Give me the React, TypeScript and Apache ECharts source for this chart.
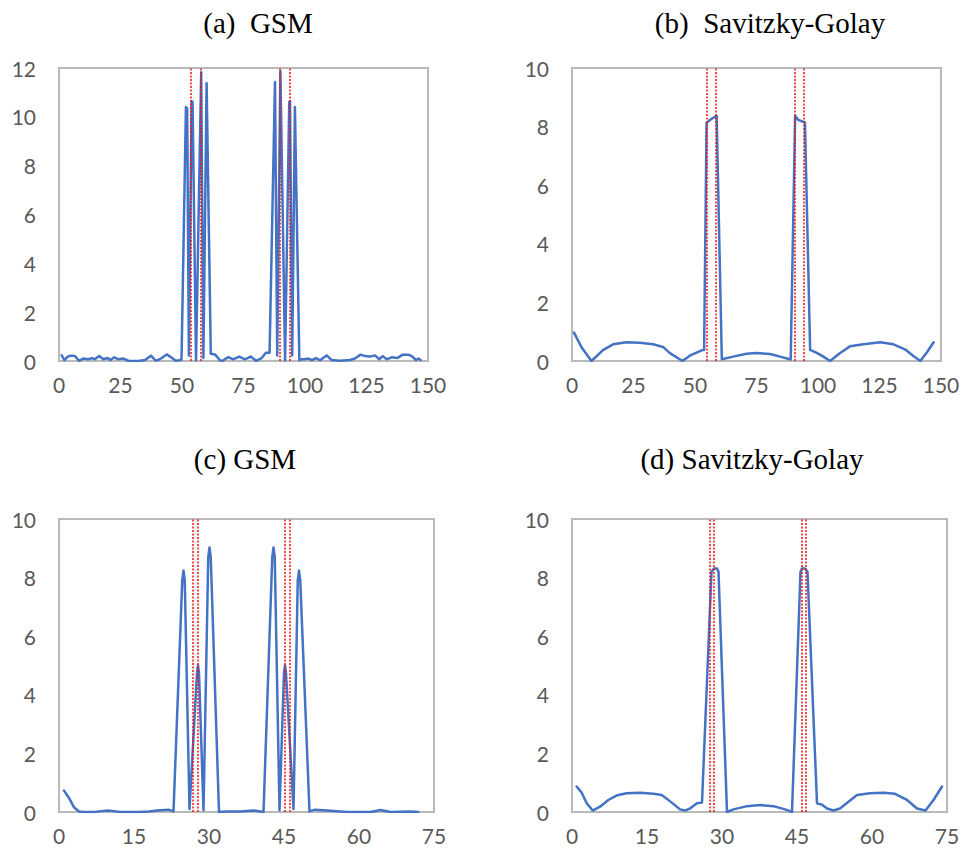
import React, { useEffect, useRef } from "react";
import * as echarts from "echarts";

// Panel titles
const titles = ["(a)  GSM", "(b)  Savitzky-Golay", "(c) GSM", "(d) Savitzky-Golay"];

// Panel (a): GSM, [x, y]
const gsmA: number[][] = [
  [1.1, 0.23], [2.2, 0.03], [3.2, 0.15], [4.5, 0.22], [6.5, 0.2], [8.1, 0.01], [9.9, 0.1], [11.9, 0.07],
  [13.5, 0.12], [14.6, 0.07], [16.3, 0.2], [18, 0.07], [19.8, 0.12], [20.9, 0.04], [22.5, 0.15], [24.1, 0.07],
  [26.2, 0.1], [28.2, 0.01], [32.2, 0], [35, 0.04], [37.4, 0.22], [39.3, 0.01], [41, 0.07], [43.8, 0.27],
  [46, 0.12], [47.4, 0.01], [48.8, 0.03], [49.8, 0.05],
  [51.6, 10.4], [52.1, 10.35], [52.8, 0.23], [53.9, 10.65], [54.3, 10.6], [55.7, 0.03], [57.8, 11.83],
  [58.7, 0.12], [60.0, 11.38], [61.7, 0.3], [63.4, 0.27], [65.4, 0.03], [66.5, 0.01], [68.8, 0.16],
  [70.8, 0.07], [73.3, 0.18], [75.6, 0.07], [77.9, 0.18], [80.1, 0.01], [82.4, 0.12], [84.1, 0.34], [85.6, 0.34],
  [87.8, 11.43], [88.7, 0.23], [90.0, 11.88], [91.9, 0.03], [93.6, 10.6], [93.9, 10.65], [94.8, 0.23],
  [95.9, 10.4], [97.7, 0.03], [98.5, 0.07], [100, 0.07], [101.4, 0.1], [102.7, 0.04], [104.5, 0.12],
  [106.1, 0.03], [108.8, 0.23], [110.8, 0.04], [114.2, 0.01], [118.3, 0.04], [120.3, 0.1], [122.6, 0.26],
  [124.4, 0.2], [126.4, 0.18], [128.5, 0.23], [130.2, 0.07], [131.6, 0.2], [133.2, 0.07], [135.2, 0.15],
  [137.5, 0.12], [139.7, 0.26], [142, 0.26], [143.4, 0.2], [145.1, 0.04], [146.1, 0.1], [147, 0.04],
];

// Panel (b): Savitzky-Golay, [x, y]
const sgB: number[][] = [
  [0.8, 0.97], [3.8, 0.48], [7.9, 0.0], [12.6, 0.37], [16.7, 0.57], [22.1, 0.64], [27.6, 0.62], [33, 0.57],
  [37, 0.48], [39.8, 0.27], [44.9, 0], [47.9, 0.18], [52.9, 0.37], [53.7, 0.38], [54.7, 8.13], [56.5, 8.25],
  [58.8, 8.37], [60.9, 0.06], [65.5, 0.15], [71, 0.25], [75, 0.27], [80.5, 0.24], [84.6, 0.15], [88.9, 0.05],
  [90.7, 8.37], [92, 8.23], [94.7, 8.14], [96.8, 0.38], [99.5, 0.28], [102.2, 0.15], [104.9, 0], [109, 0.27],
  [113, 0.5], [118.5, 0.57], [125.3, 0.64], [130.7, 0.57], [135.5, 0.39], [138.9, 0.16], [141.6, 0],
  [144.3, 0.3], [147, 0.64],
];

// Panel (c): GSM, [x, y]
const gsmC: number[][] = [
  [1.0, 0.73], [2.0, 0.48], [3.0, 0.16], [4.0, 0.02], [5, 0], [7, 0], [8.5, 0.03], [9.7, 0.05], [11, 0.03],
  [12.2, 0], [16, 0], [18, 0.02], [19.6, 0.05], [21.9, 0.08], [22.9, 0.02],
  [24.65, 7.9], [24.9, 8.24], [25.15, 7.9], [26.1, 0.1],
  [27.6, 4.75], [27.8, 5.0], [28.0, 4.75], [28.9, 0.06],
  [29.85, 8.7], [30.1, 9.03], [30.35, 8.7], [32, 0], [33.6, 0.02], [36.2, 0.02],
  [38.9, 0.05], [40.9, 0],
  [42.65, 8.7], [42.9, 9.03], [43.15, 8.7], [44.1, 0.06],
  [45.0, 4.75], [45.2, 5.0], [45.4, 4.75], [46.9, 0.1],
  [47.75, 7.9], [48.0, 8.24], [48.25, 7.9], [50.1, 0.02],
  [51.2, 0.08], [53.6, 0.05], [57.6, 0], [62.3, 0], [64.3, 0.07], [66.3, 0], [70.3, 0.02], [71.9, 0],
];

// Panel (d): Savitzky-Golay, [x, y]
const sgD: number[][] = [
  [0.93, 0.87], [1.94, 0.66], [2.94, 0.3], [4.14, 0.05], [5.6, 0.18], [7.27, 0.41], [8.9, 0.56], [10.9, 0.64],
  [13.6, 0.66], [16.3, 0.62], [17.95, 0.58], [19.96, 0.32], [21.6, 0.09], [22.6, 0.05], [23.6, 0.12], [25, 0.3],
  [26, 0.32], [27.9, 8.2], [28.4, 8.31], [29.0, 8.31], [29.3, 8.2], [31, 0], [32.3, 0.09], [35, 0.2],
  [37.6, 0.24], [40.3, 0.2], [42.6, 0.09], [44, 0], [45.7, 8.2], [46.0, 8.31], [46.6, 8.31], [47.1, 8.2],
  [49, 0.3], [50, 0.25], [51, 0.12], [52.3, 0.05], [53.6, 0.12], [55.3, 0.35], [57, 0.58], [59.6, 0.64],
  [62.3, 0.66], [64.6, 0.62], [67, 0.41], [69, 0.12], [70.7, 0.05], [72.3, 0.41], [74, 0.87],
];

// Red dotted marker positions (x)
const markA = [53.7, 57.6, 89.6, 93.6];
const markB = [54.7, 58.6, 90.4, 94.3];
const markC = [26.8, 27.7, 45.2, 46.1];
const markD = [27.5, 28.4, 45.9, 46.8];

// Axis ranges: [xMax, xInterval, yMax, yInterval]
const axisA = [150, 25, 12, 2];
const axisB = [150, 25, 10, 2];
const axisC = [75, 15, 10, 2];
const axisD = [75, 15, 10, 2];

export default function App() {
  const ref = useRef<HTMLDivElement>(null);
  useEffect(() => {
    if (!ref.current) return;
    const chart = echarts.init(ref.current, undefined, { renderer: "svg" });
    const grids = [
      { left: 59, top: 68, width: 369, height: 293 },
      { left: 572, top: 68, width: 369, height: 293 },
      { left: 59, top: 519, width: 375, height: 293 },
      { left: 572, top: 519, width: 375, height: 293 },
    ];
    const titlePos = [
      [258, 23],
      [770, 23],
      [245, 459],
      [752, 459],
    ];
    const axes = [axisA, axisB, axisC, axisD];
    const datas = [gsmA, sgB, gsmC, sgD];
    const marks = [markA, markB, markC, markD];
    const gray = "#bababa";
    const labelStyle = { color: "#595959", fontSize: 21, fontFamily: "Lato" };

    chart.setOption({
      animation: false,
      backgroundColor: "#ffffff",
      grid: grids.map((g) => ({ ...g, show: true, borderColor: gray, borderWidth: 2, containLabel: false })),
      xAxis: axes.map((a, i) => ({
        type: "value",
        gridIndex: i,
        min: 0,
        max: a[0],
        interval: a[1],
        splitLine: { show: false },
        axisTick: { show: false },
        axisLine: { show: true, lineStyle: { color: gray, width: 2 } },
        axisLabel: { ...labelStyle, margin: 13 },
      })),
      yAxis: axes.map((a, i) => ({
        type: "value",
        gridIndex: i,
        min: 0,
        max: a[2],
        interval: a[3],
        splitLine: { show: false },
        axisTick: { show: false },
        axisLine: { show: true, lineStyle: { color: gray, width: 2 } },
        axisLabel: { ...labelStyle, margin: 23 },
      })),
      series: datas.map((d, i) => ({
        type: "line",
        xAxisIndex: i,
        yAxisIndex: i,
        data: d,
        showSymbol: false,
        symbol: "none",
        lineStyle: { color: "#4472c4", width: 2.5, join: "round", cap: "round" },
        markLine: {
          silent: true,
          symbol: ["none", "none"],
          label: { show: false },
          lineStyle: { color: "#ee1111", width: 1.5, type: [2, 1.5] },
          data: marks[i].map((m) => ({ xAxis: m })),
        },
      })),
      graphic: titles.map((t, i) => ({
        type: "text",
        x: titlePos[i][0],
        y: titlePos[i][1],
        style: {
          text: t,
          fill: "#000000",
          fontSize: 29,
          fontFamily: "Liberation Serif",
          textAlign: "center",
          textVerticalAlign: "middle",
        },
      })),
    });
    return () => chart.dispose();
  }, []);
  return (
    <div
      ref={ref}
      style={{ position: "fixed", left: 0, top: 0, width: 966, height: 855, background: "#fff" }}
    />
  );
}
